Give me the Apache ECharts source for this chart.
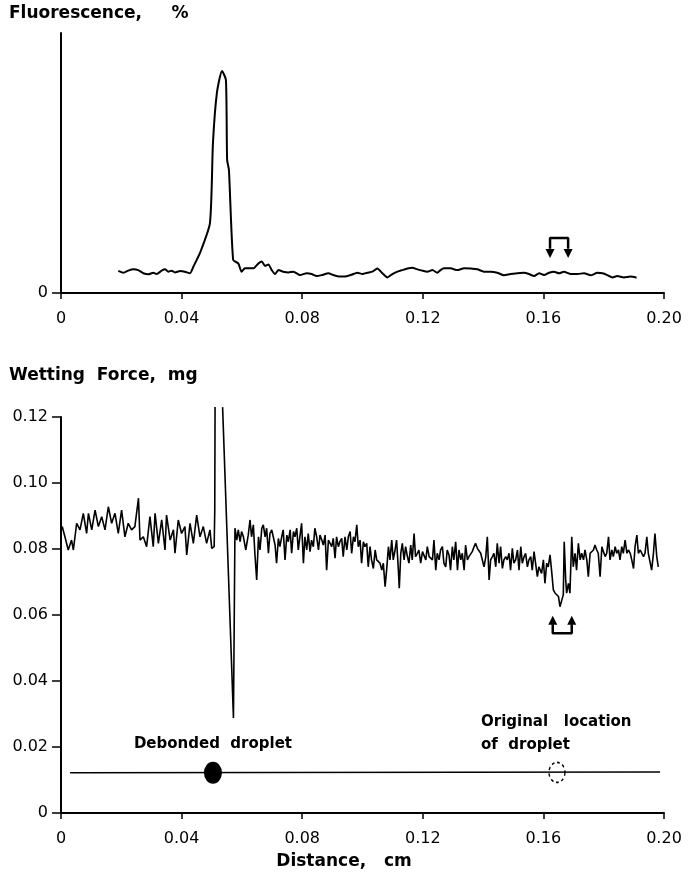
<!DOCTYPE html>
<html>
<head>
<meta charset="utf-8">
<script src="https://cdn.jsdelivr.net/npm/echarts@6/dist/echarts.min.js"></script>
<style>html,body{margin:0;padding:0;background:#fff;}#c{width:688px;height:893px;}</style>
</head>
<body>
<div id="c"></div>
<script>
// ---- data ----
const xTicks = [0, 0.04, 0.08, 0.12, 0.16, 0.20];
const wfTicks = [0, 0.02, 0.04, 0.06, 0.08, 0.10, 0.12];

const fluorescence = [
 [0.0190,8.5],[0.0207,7.8],[0.0223,8.6],[0.0240,9.1],[0.0256,8.8],[0.0273,7.6],[0.0290,7.2],
 [0.0306,7.8],[0.0317,7.3],[0.0334,8.6],[0.0345,9.1],[0.0356,8.2],[0.0367,8.6],[0.0378,7.9],
 [0.0395,8.5],[0.0411,8.2],[0.0428,7.6],[0.0439,10.1],
 [0.0461,15.4],[0.0494,26.9],[0.0504,57.7],[0.0517,76.9],[0.0534,85.4],[0.0547,81.9],
 [0.0551,51.2],[0.0557,47.3],[0.0571,12.7],
 [0.0588,11.4],[0.0599,8.2],[0.0610,9.5],[0.0638,9.5],[0.0655,11.4],[0.0666,12.1],[0.0677,10.4],
 [0.0688,11.0],[0.0699,8.8],[0.0710,7.3],[0.0721,8.8],[0.0737,8.2],[0.0754,7.9],[0.0771,8.2],
 [0.0793,6.9],[0.0815,7.6],[0.0831,7.3],[0.0848,6.5],[0.0865,6.9],[0.0887,7.6],[0.0903,6.9],
 [0.0925,6.3],[0.0939,6.3],[0.0961,6.9],[0.0983,7.8],[0.1000,7.3],[0.1016,7.8],[0.1033,8.2],
 [0.1049,9.4],[0.1066,7.6],[0.1082,6.0],[0.1099,7.3],[0.1116,8.2],[0.1132,8.8],[0.1149,9.4],
 [0.1165,9.7],[0.1182,9.1],[0.1198,8.6],[0.1215,8.2],[0.1232,8.8],[0.1248,7.8],[0.1259,8.8],
 [0.1270,9.5],[0.1292,9.5],[0.1314,8.8],[0.1337,9.5],[0.1359,9.4],[0.1381,9.1],[0.1403,8.2],
 [0.1425,8.2],[0.1447,7.8],[0.1469,6.8],[0.1491,7.3],[0.1514,7.6],[0.1536,7.8],[0.1552,7.3],
 [0.1569,6.5],[0.1586,7.6],[0.1602,6.9],[0.1619,7.8],[0.1635,8.2],[0.1652,7.6],[0.1668,8.2],
 [0.1691,7.3],[0.1713,7.3],[0.1735,7.6],[0.1757,6.8],[0.1779,7.8],[0.1796,7.6],[0.1812,6.9],
 [0.1829,6.0],[0.1845,6.5],[0.1867,6.0],[0.1889,6.3],[0.1909,5.9]
];

const wettingForce = [
 [0.0004,0.0868],[0.0013,0.0837],[0.0024,0.0797],[0.0035,0.0827],[0.0041,0.0797],[0.0052,0.0878],
 [0.0063,0.0858],[0.0074,0.0908],[0.0085,0.0847],[0.0091,0.0908],[0.0102,0.0858],[0.0113,0.0918],
 [0.0124,0.0868],[0.0135,0.0898],[0.0146,0.0858],[0.0157,0.0928],[0.0168,0.0878],[0.0179,0.0908],
 [0.0190,0.0847],[0.0201,0.0918],[0.0212,0.0837],[0.0223,0.0878],[0.0234,0.0858],[0.0245,0.0868],
 [0.0257,0.0954],[0.0262,0.0827],[0.0273,0.0837],[0.0284,0.0807],[0.0295,0.0898],[0.0306,0.0807],
 [0.0312,0.0908],[0.0323,0.0817],[0.0334,0.0888],[0.0345,0.0797],[0.0350,0.0903],[0.0362,0.0827],
 [0.0373,0.0858],[0.0378,0.0787],[0.0389,0.0888],[0.0400,0.0847],[0.0411,0.0868],[0.0417,0.0782],
 [0.0428,0.0878],[0.0439,0.0817],[0.0450,0.0903],[0.0461,0.0837],[0.0472,0.0868],[0.0483,0.0817],
 [0.0494,0.0858],[0.0500,0.0802],[0.0508,0.0807],[0.0510,0.0918],[0.0511,0.1230],[0.0524,'-'],
 [0.0536,0.1230],[0.0572,0.0288],
 [0.0577,0.0863],[0.0583,0.0827],[0.0588,0.0858],[0.0594,0.0822],[0.0599,0.0853],[0.0605,0.0837],
 [0.0613,0.0797],[0.0621,0.0842],[0.0627,0.0888],[0.0632,0.0837],[0.0638,0.0873],[0.0643,0.0787],
 [0.0649,0.0706],[0.0655,0.0837],[0.0660,0.0797],[0.0666,0.0863],[0.0671,0.0873],[0.0677,0.0837],
 [0.0682,0.0863],[0.0688,0.0787],[0.0693,0.0847],[0.0699,0.0858],[0.0704,0.0837],[0.0710,0.0812],
 [0.0715,0.0757],[0.0721,0.0832],[0.0726,0.0807],[0.0732,0.0837],[0.0737,0.0858],[0.0743,0.0767],
 [0.0749,0.0842],[0.0754,0.0822],[0.0760,0.0858],[0.0765,0.0787],[0.0771,0.0853],[0.0776,0.0837],
 [0.0782,0.0863],[0.0787,0.0797],[0.0793,0.0842],[0.0798,0.0878],[0.0804,0.0757],[0.0809,0.0837],
 [0.0815,0.0797],[0.0820,0.0847],[0.0826,0.0792],[0.0831,0.0827],[0.0837,0.0807],[0.0842,0.0863],
 [0.0848,0.0837],[0.0854,0.0797],[0.0859,0.0842],[0.0865,0.0827],[0.0870,0.0812],[0.0876,0.0842],
 [0.0881,0.0736],[0.0887,0.0827],[0.0892,0.0832],[0.0898,0.0807],[0.0903,0.0832],[0.0909,0.0772],
 [0.0914,0.0837],[0.0920,0.0807],[0.0925,0.0822],[0.0931,0.0832],[0.0936,0.0777],[0.0942,0.0837],
 [0.0948,0.0797],[0.0953,0.0837],[0.0959,0.0853],[0.0964,0.0787],[0.0970,0.0837],[0.0975,0.0822],
 [0.0981,0.0873],[0.0986,0.0807],[0.0992,0.0827],[0.0997,0.0757],[0.1003,0.0822],[0.1008,0.0807],
 [0.1014,0.0817],[0.1019,0.0746],[0.1025,0.0807],[0.1030,0.0767],[0.1036,0.0741],[0.1042,0.0797],
 [0.1047,0.0767],[0.1053,0.0772],[0.1058,0.0757],[0.1064,0.0736],[0.1069,0.0757],[0.1075,0.0686],
 [0.1080,0.0736],[0.1086,0.0807],[0.1091,0.0767],
 [0.1097,0.0827],[0.1102,0.0767],[0.1108,0.0797],[0.1113,0.0827],[0.1119,0.0736],[0.1122,0.0681],
 [0.1127,0.0787],[0.1132,0.0817],[0.1138,0.0767],[0.1143,0.0807],[0.1149,0.0777],[0.1154,0.0757],
 [0.1160,0.0812],[0.1165,0.0767],[0.1171,0.0847],[0.1176,0.0777],[0.1182,0.0787],[0.1187,0.0797],
 [0.1193,0.0757],[0.1199,0.0792],[0.1204,0.0797],[0.1210,0.0767],[0.1215,0.0807],[0.1221,0.0777],
 [0.1226,0.0782],[0.1232,0.0767],[0.1237,0.0827],[0.1243,0.0736],[0.1248,0.0787],[0.1254,0.0767],
 [0.1259,0.0797],[0.1265,0.0807],[0.1270,0.0757],[0.1276,0.0746],[0.1281,0.0797],[0.1287,0.0782],
 [0.1292,0.0736],[0.1298,0.0807],[0.1303,0.0767],[0.1309,0.0822],[0.1315,0.0736],[0.1320,0.0797],
 [0.1326,0.0767],[0.1331,0.0787],[0.1337,0.0736],[0.1342,0.0812],[0.1348,0.0767],[0.1353,0.0777],
 [0.1359,0.0782],[0.1364,0.0792],[0.1370,0.0807],[0.1375,0.0817],[0.1381,0.0802],[0.1386,0.0797],
 [0.1392,0.0787],[0.1397,0.0792],[0.1403,0.0746],[0.1409,0.0777],[0.1414,0.0837],[0.1420,0.0706],
 [0.1425,0.0767],[0.1431,0.0777],[0.1436,0.0787],[0.1442,0.0746],[0.1447,0.0817],[0.1453,0.0757],
 [0.1458,0.0807],[0.1464,0.0741],[0.1469,0.0767],[0.1475,0.0777],[0.1480,0.0767],[0.1486,0.0787],
 [0.1491,0.0736],[0.1497,0.0802],[0.1502,0.0757],[0.1508,0.0767],[0.1514,0.0797],[0.1519,0.0736],
 [0.1525,0.0807],[0.1530,0.0757],[0.1536,0.0777],[0.1541,0.0787],[0.1547,0.0746],[0.1552,0.0767],
 [0.1558,0.0777],[0.1563,0.0736],[0.1569,0.0792],[0.1574,0.0757],[0.1580,0.0716],[0.1585,0.0746],
 [0.1594,0.0726],[0.1600,0.0767],[0.1605,0.0696],[0.1611,0.0757],[0.1616,0.0746],[0.1622,0.0782],
 [0.1627,0.0736],[0.1633,0.0676],[0.1639,0.0666],[0.1644,0.0661],[0.1650,0.0656],[0.1655,0.0625],
 [0.1661,0.0645],[0.1666,0.0661],[0.1669,0.0822],[0.1674,0.0706],[0.1677,0.0666],[0.1683,0.0696],
 [0.1688,0.0666],[0.1694,0.0837],[0.1699,0.0746],[0.1705,0.0787],[0.1710,0.0736],[0.1716,0.0817],
 [0.1722,0.0767],[0.1727,0.0787],[0.1733,0.0767],[0.1738,0.0797],[0.1744,0.0767],[0.1749,0.0716],
 [0.1755,0.0787],[0.1760,0.0782],[0.1766,0.0797],[0.1771,0.0812],[0.1777,0.0797],[0.1782,0.0787],
 [0.1788,0.0716],[0.1794,0.0807],[0.1799,0.0792],[0.1805,0.0777],[0.1810,0.0787],[0.1816,0.0837],
 [0.1821,0.0767],[0.1827,0.0797],[0.1832,0.0777],[0.1838,0.0807],[0.1843,0.0787],[0.1849,0.0797],
 [0.1854,0.0767],[0.1860,0.0807],[0.1865,0.0787],[0.1871,0.0827],[0.1877,0.0787],[0.1882,0.0797],
 [0.1888,0.0787],[0.1893,0.0767],[0.1899,0.0741],[0.1904,0.0807],[0.1910,0.0842],[0.1915,0.0787],
 [0.1921,0.0797],[0.1926,0.0797],[0.1932,0.0777],[0.1937,0.0787],[0.1943,0.0837],[0.1948,0.0787],
 [0.1954,0.0782],[0.1959,0.0736],[0.1965,0.0787],[0.1970,0.0847],[0.1976,0.0777],[0.1981,0.0746]
];

// schematic of fibre with droplets (bottom panel)
const fibreLine = [[0.003, 0.0122], [0.1987, 0.0124]];
const debondedDroplet = [[0.0504, 0.0122]];
const originalDroplet = [[0.1645, 0.0123]];
const dropletLabels = [
  {value: [0.0504, 0.0209], text: 'Debonded  droplet', align: 'center'},
  {value: [0.1393, 0.0276], text: 'Original   location', align: 'left'},
  {value: [0.1393, 0.0206], text: 'of  droplet', align: 'left'}
];
// bracket arrows marking original droplet position
const topBracket = [[0.1622, 17.0], [0.1622, 21.2], [0.1682, 21.2], [0.1682, 17.0]];
const topArrowHeads = [[0.1622, 15.2], [0.1682, 15.2]];
const botBracket = [[0.1631, 0.0572], [0.1631, 0.0545], [0.1694, 0.0545], [0.1694, 0.0572]];
const botArrowHeads = [[0.1631, 0.0584], [0.1694, 0.0584]];

// ---- chart ----
const FONT = 'DejaVu Sans';
const chart = echarts.init(document.getElementById('c'), null, {renderer: 'canvas'});
const axisLineStyle = {color: '#000', width: 2};
const xAxisCommon = {
  type: 'value', min: 0, max: 0.2, interval: 0.04,
  axisLine: {show: true, lineStyle: axisLineStyle, onZero: false},
  axisTick: {show: true, inside: false, length: 6, lineStyle: {color: '#000', width: 1.5}},
  axisLabel: {color: '#000', fontFamily: FONT, fontSize: 16, margin: 18,
    formatter: v => v === 0 ? '0' : v.toFixed(2)},
  splitLine: {show: false}
};
chart.setOption({
  animation: false,
  backgroundColor: '#fff',
  grid: [
    {left: 61, right: 24, top: 33, height: 260},
    {left: 61, right: 24, top: 417, height: 396}
  ],
  xAxis: [
    Object.assign({gridIndex: 0}, xAxisCommon),
    Object.assign({gridIndex: 1}, xAxisCommon)
  ],
  yAxis: [
    {gridIndex: 0, type: 'value', min: 0, max: 100, interval: 100,
     axisLine: {show: true, lineStyle: axisLineStyle},
     axisTick: {show: true, length: 9, customValues: [0], lineStyle: {color: '#000', width: 1.5}},
     axisLabel: {color: '#000', fontFamily: FONT, fontSize: 16, margin: 13, customValues: [0],
       formatter: v => v === 0 ? '0' : ''},
     splitLine: {show: false}},
    {gridIndex: 1, type: 'value', min: 0, max: 0.12, interval: 0.02,
     axisLine: {show: true, lineStyle: axisLineStyle},
     axisTick: {show: true, length: 9, lineStyle: {color: '#000', width: 1.5}},
     axisLabel: {color: '#000', fontFamily: FONT, fontSize: 16, margin: 13,
       formatter: v => v === 0 ? '0' : v.toFixed(2)},
     splitLine: {show: false}}
  ],
  graphic: [
    {type: 'text', left: 9, top: 5, style: {text: 'Fluorescence,     %', font: 'bold 17px "DejaVu Sans"', fill: '#000'}},
    {type: 'text', left: 9, top: 367, style: {text: 'Wetting  Force,  mg', font: 'bold 17px "DejaVu Sans"', fill: '#000'}},
    {type: 'text', left: 'center', top: 853, style: {text: 'Distance,   cm', font: 'bold 17px "DejaVu Sans"', fill: '#000'}}
  ],
  series: [
    {type: 'line', xAxisIndex: 0, yAxisIndex: 0, data: fluorescence, showSymbol: false, smooth: 0.2,
     lineStyle: {color: '#000', width: 2}},
    {type: 'line', xAxisIndex: 0, yAxisIndex: 0, data: topBracket, showSymbol: false,
     lineStyle: {color: '#000', width: 2.5}},
    {type: 'scatter', xAxisIndex: 0, yAxisIndex: 0, data: topArrowHeads, symbol: 'triangle', symbolRotate: 180,
     symbolSize: [9, 9], itemStyle: {color: '#000', opacity: 1}},
    {type: 'line', xAxisIndex: 1, yAxisIndex: 1, data: wettingForce, showSymbol: false, clip: false,
     connectNulls: false, lineStyle: {color: '#000', width: 1.6}},
    {type: 'line', xAxisIndex: 1, yAxisIndex: 1, data: botBracket, showSymbol: false,
     lineStyle: {color: '#000', width: 2.5}},
    {type: 'scatter', xAxisIndex: 1, yAxisIndex: 1, data: botArrowHeads, symbol: 'triangle',
     symbolSize: [9, 9], itemStyle: {color: '#000', opacity: 1}},
    {type: 'line', xAxisIndex: 1, yAxisIndex: 1, data: fibreLine, showSymbol: false,
     lineStyle: {color: '#000', width: 1.5}},
    {type: 'scatter', xAxisIndex: 1, yAxisIndex: 1, data: debondedDroplet, symbol: 'circle',
     symbolSize: [18, 22], itemStyle: {color: '#000', opacity: 1}},
    {type: 'scatter', xAxisIndex: 1, yAxisIndex: 1, data: originalDroplet, symbol: 'circle',
     symbolSize: [16, 20], itemStyle: {color: 'rgba(255,255,255,0)', opacity: 1, borderColor: '#000', borderWidth: 1.5, borderType: [3, 3]}},
    {type: 'scatter', xAxisIndex: 1, yAxisIndex: 1, symbolSize: 0, silent: true,
     itemStyle: {opacity: 1},
     data: dropletLabels.map(d => ({value: d.value,
       label: {show: true, formatter: d.text, position: d.align === 'center' ? 'inside' : 'right', distance: 0,
         color: '#000', opacity: 1, fontFamily: FONT, fontWeight: 'bold', fontSize: 15}}))}
  ]
});
</script>
</body>
</html>
